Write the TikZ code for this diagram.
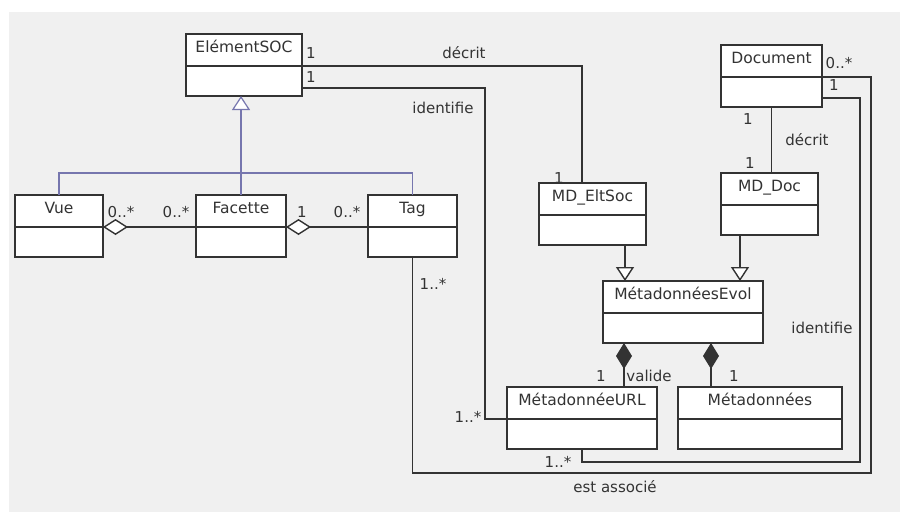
\documentclass[tikz,border=0pt]{standalone}
\usepackage{fontspec}
\setmainfont{DejaVu Sans}
\usetikzlibrary{arrows.meta,positioning}

\definecolor{bggray}{HTML}{F0F0F0}
\definecolor{genblue}{HTML}{7676AE}
\definecolor{umlline}{HTML}{333333}

\tikzset{
  cname/.style={draw=umlline, fill=white, line width=1.5pt, minimum height=32pt,
    anchor=north west, inner sep=0pt, outer sep=0pt, text height=10pt, text depth=5pt,
    font=\fontsize{15.5}{18}\selectfont, text=umlline},
  cbody/.style={draw=umlline, fill=white, line width=1.5pt, minimum height=30pt,
    inner sep=0pt, outer sep=0pt},
  mult/.style={inner sep=0pt, font=\fontsize{15}{17}\selectfont, text=umlline},
  assoc/.style={draw=umlline, line width=1.4pt},
  gen/.style={draw=genblue, line width=1.2pt},
  genarrow/.style={-{Triangle[length=14pt, width=18pt, fill=white]}},
  aggr/.style={{Diamond[length=25pt, width=16pt, fill=white]}-},
  compo/.style={{Diamond[length=26pt, width=16pt]}-},
}

\begin{document}
\begin{tikzpicture}[x=1pt, y=-1pt]
    \useasboundingbox (0,0) rectangle (900,512);
    \fill[bggray] (9,12) rectangle (900,512);

    % classes
    \node[cname, minimum width=116pt] (soc) at (186,34) {ElémentSOC};
    \node[cbody, minimum width=116pt, below=0pt of soc] (soc-b) {};
    \node[cname, minimum width=88pt] (vue) at (15,195) {Vue};
    \node[cbody, minimum width=88pt, below=0pt of vue] (vue-b) {};
    \node[cname, minimum width=90pt] (fac) at (196,195) {Facette};
    \node[cbody, minimum width=90pt, below=0pt of fac] (fac-b) {};
    \node[cname, minimum width=89pt] (tag) at (368,195) {Tag};
    \node[cbody, minimum width=89pt, below=0pt of tag] (tag-b) {};
    \node[cname, minimum width=107pt] (eltsoc) at (539,183) {MD\_EltSoc};
    \node[cbody, minimum width=107pt, below=0pt of eltsoc] (eltsoc-b) {};
    \node[cname, minimum width=101pt] (doc) at (721,45) {Document};
    \node[cbody, minimum width=101pt, below=0pt of doc] (doc-b) {};
    \node[cname, minimum width=97pt] (mddoc) at (721,173) {MD\_Doc};
    \node[cbody, minimum width=97pt, below=0pt of mddoc] (mddoc-b) {};
    \node[cname, minimum width=160pt] (evol) at (603,281) {MétadonnéesEvol};
    \node[cbody, minimum width=160pt, below=0pt of evol] (evol-b) {};
    \node[cname, minimum width=150pt] (url) at (507,387) {MétadonnéeURL};
    \node[cbody, minimum width=150pt, below=0pt of url] (url-b) {};
    \node[cname, minimum width=164pt] (meta) at (678,387) {Métadonnées};
    \node[cbody, minimum width=164pt, below=0pt of meta] (meta-b) {};

    % bend points
    \coordinate (genj) at (240,173);
    \coordinate (idsoc) at (485,250);
    \coordinate (eacorner) at (871,473);
    \coordinate (iddoc) at (860,462);

    % generalizations
    \draw[gen] (vue.north) |- (genj) -| (tag.north);
    \draw[gen, genarrow] (fac.north) -- (fac.north |- soc-b.south);
    \draw[assoc, genarrow] ([xshift=32.5pt]eltsoc-b.south) -- ([xshift=32.5pt]eltsoc-b.south |- evol.north);
    \draw[assoc, genarrow] ([xshift=-29.5pt]mddoc-b.south) -- ([xshift=-29.5pt]mddoc-b.south |- evol.north);

    % aggregations and compositions
    \draw[assoc, aggr] (vue.south east) -- (fac.south west);
    \draw[assoc, aggr] (fac.south east) -- (tag.south west);
    \draw[assoc, compo] ([xshift=-59pt]evol-b.south) -- ([xshift=-59pt]evol-b.south |- url.north);
    \draw[assoc, compo] ([xshift=28pt]evol-b.south) -- ([xshift=28pt]evol-b.south |- meta.north);

    % associations
    \draw[assoc] (soc.south east) -| ([xshift=-10.5pt]eltsoc.north);
    \draw[assoc] ([yshift=-7pt]soc-b.east) -| (idsoc) |- (url.south west);
    \draw[assoc] (doc-b.south) -- (doc-b.south |- mddoc.north);
    \draw[assoc] (doc.south east) -| (eacorner) -| (tag-b.south);
    \draw[assoc] ([yshift=-6pt]doc-b.east) -| (iddoc) -| (url-b.south);

    % labels
    \node[mult] (l-socd) at (311,53) {1};
    \node[mult] (l-soci) at (311,77) {1};
    \node[mult] (l-decrit1) at (464,53) {décrit};
    \node[mult] (l-ident1) at (443,108) {identifie};
    \node[mult] (l-elt) at (559,178) {1};
    \node[mult] (l-doc0) at (839,63) {0..*};
    \node[mult] (l-doc1) at (834,85) {1};
    \node[mult] (l-docb) at (748,119) {1};
    \node[mult] (l-decrit2) at (807,140) {décrit};
    \node[mult] (l-mddoc) at (750,163) {1};
    \node[mult] (l-vue) at (121,212) {0..*};
    \node[mult] (l-facl) at (176,212) {0..*};
    \node[mult] (l-facr) at (302,212) {1};
    \node[mult] (l-tagl) at (347,212) {0..*};
    \node[mult] (l-tagb) at (433,284) {1..*};
    \node[mult] (l-urll) at (468,417) {1..*};
    \node[mult] (l-valide1) at (601,376) {1};
    \node[mult] (l-valide) at (649,376) {valide};
    \node[mult] (l-meta) at (734,376) {1};
    \node[mult] (l-ident2) at (822,328) {identifie};
    \node[mult] (l-urlb) at (558,462) {1..*};
    \node[mult] (l-assoc) at (615,487) {est associé};
  \end{tikzpicture}
\end{document}
